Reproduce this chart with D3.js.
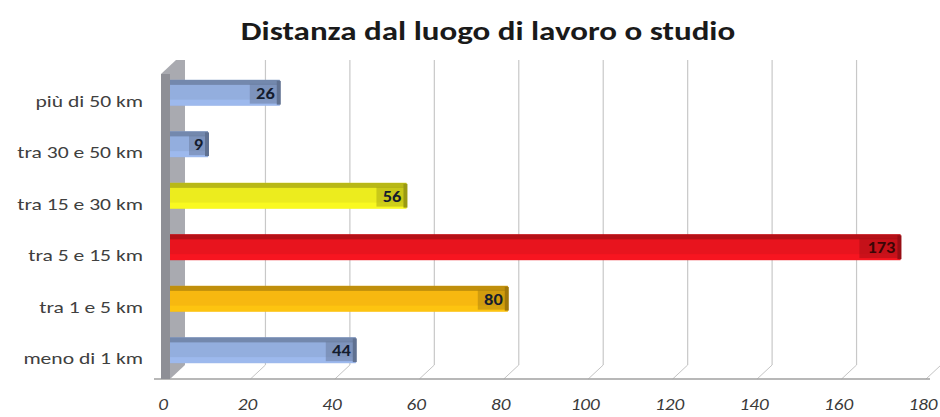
<!DOCTYPE html>
<html>
<head>
<meta charset="utf-8">
<script src="https://cdn.jsdelivr.net/npm/d3@7/dist/d3.min.js"></script>
<style>
  html, body { margin: 0; padding: 0; background: #ffffff; }
  svg { display: block; }
</style>
</head>
<body>
<svg id="chart" width="940" height="417"></svg>
<script>
// Distance from place of work or study (counts per category)
const title = "Distanza dal luogo di lavoro o studio";
const categories = ["più di 50 km", "tra 30 e 50 km", "tra 15 e 30 km", "tra 5 e 15 km", "tra 1 e 5 km", "meno di 1 km"];
const values = [26, 9, 56, 173, 80, 44];
const barColors = ["#93aede", "#93aede", "#ecec1e", "#e8141e", "#f7b810", "#93aede"];
const ticks = [0, 20, 40, 60, 80, 100, 120, 140, 160, 180];

const svg = d3.select("#chart");

// front edge of the floor and depth offset of the back wall
const floorFront = 379, depthX = 15, depthY = 14;
const xFront = d3.scaleLinear().domain([0, 180]).range([166, 926]);
const xBack = v => xFront(v) + depthX;
const xBar = v => xFront(v) + 4;
const y = d3.scaleBand().domain(categories).range([67, 376]).paddingInner(0.5).paddingOuter(0.25);
const bh = y.bandwidth();

const fontUI = "Carlito, Lato, 'Open Sans', sans-serif";
const stretch = 1.27; // wide text proportions used throughout the chart

// text helper: positioned with a transform so it can be widened horizontally
function label(sel, x, yPos, sx) {
  return sel.attr("transform", (d, i) =>
    `translate(${typeof x === "function" ? x(d, i) : x},${typeof yPos === "function" ? yPos(d, i) : yPos}) scale(${sx},1)`);
}

// title
label(svg.append("text"), 488, 40, stretch)
  .attr("text-anchor", "middle")
  .attr("font-family", fontUI)
  .attr("font-weight", "bold")
  .attr("font-size", 26)
  .attr("fill", "#1a1a1a")
  .text(title);

// back wall gridlines
const wallTop = 60;
svg.append("g").selectAll("line")
  .data(ticks.slice(1))
  .join("line")
  .attr("x1", d => xBack(d)).attr("x2", d => xBack(d))
  .attr("y1", wallTop).attr("y2", floorFront - depthY)
  .attr("stroke", "#c8c8c8").attr("stroke-width", 1.2);

// floor: slanted gridlines from back wall to front edge
svg.append("g").selectAll("line")
  .data(ticks.slice(1))
  .join("line")
  .attr("x1", d => xBack(d)).attr("y1", floorFront - depthY)
  .attr("x2", d => xFront(d)).attr("y2", floorFront)
  .attr("stroke", "#c4c4c4").attr("stroke-width", 1);

// front edge of the floor
svg.append("line")
  .attr("x1", xFront(0) - 12).attr("x2", xFront(180) + 4)
  .attr("y1", floorFront).attr("y2", floorFront)
  .attr("stroke", "#a0a0a0").attr("stroke-width", 1.3);

// side wall (left), drawn as a thin 3D slab
const wx0 = xFront(0) - 5, wx1 = xFront(0) + 4;
svg.append("polygon")
  .attr("points", [
    [wx0, floorFront], [wx0, wallTop + depthY], [wx0 + depthX, wallTop],
    [wx1 + depthX, wallTop], [wx1 + depthX, floorFront - depthY], [wx1, floorFront]
  ].map(p => p.join(",")).join(" "))
  .attr("fill", "#a9aab0");
svg.append("polygon")
  .attr("points", [
    [wx0, floorFront], [wx0, wallTop + depthY], [wx1, wallTop + depthY], [wx1, floorFront]
  ].map(p => p.join(",")).join(" "))
  .attr("fill", "#8e8f96");

// bars
const bars = svg.append("g").selectAll("g")
  .data(categories.map((c, i) => ({ c, v: values[i], col: barColors[i] })))
  .join("g");

bars.append("rect")
  .attr("x", xBar(0)).attr("y", d => y(d.c))
  .attr("width", d => xBar(d.v) - xBar(0)).attr("height", bh)
  .attr("fill", d => d.col);
// darker top band
bars.append("rect")
  .attr("x", xBar(0)).attr("y", d => y(d.c))
  .attr("width", d => xBar(d.v) - xBar(0)).attr("height", 5)
  .attr("fill", d => d3.color(d.col).darker(0.7));
// lighter lower band
bars.append("rect")
  .attr("x", xBar(0)).attr("y", d => y(d.c) + bh - 6)
  .attr("width", d => xBar(d.v) - xBar(0)).attr("height", 6)
  .attr("fill", d => d3.color(d.col).brighter(0.25))
  .attr("opacity", 0.7);
// shaded patch behind the value label
const patchW = d => Math.min(xBar(d.v) - xBar(0), 8 + String(d.v).length * 11);
bars.append("rect")
  .attr("x", d => xBar(d.v) - patchW(d))
  .attr("y", d => y(d.c) + 4)
  .attr("width", patchW)
  .attr("height", bh - 6)
  .attr("fill", d => d3.color(d.col).darker(0.9))
  .attr("opacity", 0.55);
// shaded end cap
bars.append("rect")
  .attr("x", d => xBar(d.v) - 3).attr("y", d => y(d.c) + 1)
  .attr("width", 4).attr("height", bh - 2)
  .attr("fill", d => d3.color(d.col).darker(1.2));

// value labels inside bar ends
label(bars.append("text"), d => xBar(d.v) - 5, d => y(d.c) + bh / 2 + 6, 1.15)
  .attr("text-anchor", "end")
  .attr("font-family", fontUI)
  .attr("font-weight", "bold")
  .attr("font-size", 16)
  .attr("fill", d => d.v === 173 ? "#3a0606" : "#141c2e")
  .text(d => d.v);

// category labels
label(svg.append("g").selectAll("text").data(categories).join("text"),
      143, d => y(d) + bh / 2 + 14, stretch)
  .attr("text-anchor", "end")
  .attr("font-family", fontUI)
  .attr("font-size", 17)
  .attr("fill", "#404040")
  .text(d => d);

// value axis tick labels (italic, along the front floor edge)
label(svg.append("g").selectAll("text").data(ticks).join("text"),
      d => xFront(d) - 3, 410, 1.2)
  .attr("text-anchor", "middle")
  .attr("font-family", fontUI)
  .attr("font-style", "italic")
  .attr("font-size", 16)
  .attr("fill", "#3a3a3a")
  .text(d => d);
</script>
</body>
</html>
